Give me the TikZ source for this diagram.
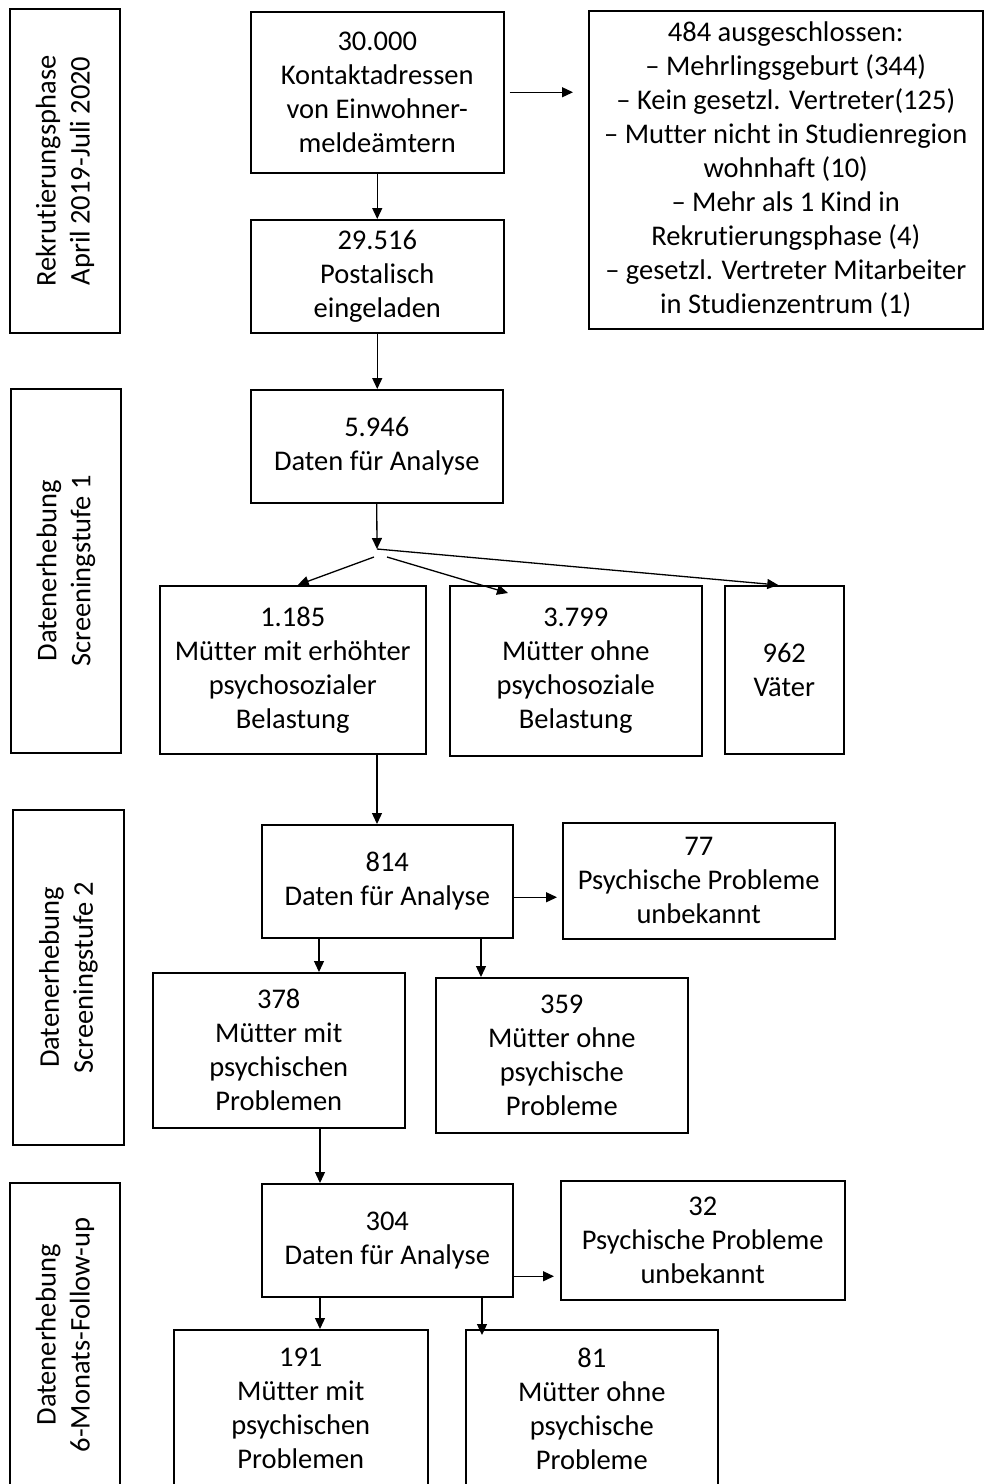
\documentclass[tikz,border=0pt]{standalone}
\usepackage{fontspec}
\setmainfont{Carlito}[Ligatures=CommonOff]
\usetikzlibrary{calc,
arrows.meta}

\begin{document}
\begin{tikzpicture} [x = 1pt, y = -1pt,
    >={Triangle[length=11pt, width=10pt]},
    every node/.style={font={\fontsize{28.5}{34}\selectfont}},
    main node/.style={rectangle, draw, line width = 1.5pt,
        anchor = north west, inner sep = 0pt, align=center},
    side node/.style={rectangle, draw, line width = 1.5pt,
        rotate = 90, inner sep = 0pt, align=center},
    arrow/.style={->, line width = 1.3pt}
  ]

  \useasboundingbox (0, 0) rectangle (984, 1484);

  % phases on the left
  \node [side node,
    minimum width = 324pt,
    minimum height = 110pt
  ] (rekrut) at (65, 171) {Rekrutierungsphase\\April 2019-Juli 2020};
  \node [side node,
    minimum width = 364pt,
    minimum height = 110pt
  ] (screen1) at (66, 571) {Datenerhebung\\Screeningstufe 1};
  \node [side node,
    minimum width = 335pt,
    minimum height = 111pt
  ] (screen2) at (68.5, 977.5) {Datenerhebung\\Screeningstufe 2};
  \node [side node,
    minimum width = 304pt,
    minimum height = 110pt
  ] (followup) at (65, 1335) {Datenerhebung\\6-Monats-Follow-up};

  % recruitment
  \node [main node,
    minimum width = 253pt,
    minimum height = 161pt
  ] (kontakt) at (250, 11) {30.000\\Kontaktadressen\\von Einwohner-\\meldeämtern};
  \node [main node,
    minimum width = 394pt,
    minimum height = 318pt
  ] (ausgeschl) at (588, 10) {484 ausgeschlossen:\\
    -- Mehrlingsgeburt (344)\\
    -- Kein gesetzl. Vertreter(125)\\
    -- Mutter nicht in Studienregion\\
    wohnhaft (10)\\
    -- Mehr als 1 Kind in\\
    Rekrutierungsphase (4)\\
    -- gesetzl. Vertreter Mitarbeiter\\
    in Studienzentrum (1)};
  \node [main node,
    minimum width = 253pt,
    minimum height = 113pt
  ] (eingel) at (250, 219) {29.516\\Postalisch\\eingeladen};

  % screening 1
  \node [main node,
    minimum width = 252pt,
    minimum height = 113pt
  ] (analyse1) at (250, 389) {5.946\\Daten für Analyse};
  \node [main node,
    minimum width = 266pt,
    minimum height = 168pt
  ] (belastet) at (159, 585) {1.185\\Mütter mit erhöhter\\psychosozialer\\Belastung};
  \node [main node,
    minimum width = 252pt,
    minimum height = 170pt
  ] (unbelastet) at (449, 585) {3.799\\Mütter ohne\\psychosoziale\\Belastung};
  \node [main node,
    minimum width = 119pt,
    minimum height = 168pt
  ] (vaeter) at (724, 585) {962\\Väter};

  % screening 2
  \node [main node,
    minimum width = 251pt,
    minimum height = 113pt
  ] (analyse2) at (261, 824) {814\\Daten für Analyse};
  \node [main node,
    minimum width = 272pt,
    minimum height = 116pt
  ] (unbek2) at (562, 822) {77\\Psychische Probleme\\unbekannt};
  \node [main node,
    minimum width = 252pt,
    minimum height = 155pt
  ] (psych2) at (152, 972) {378\\Mütter mit\\psychischen\\Problemen};
  \node [main node,
    minimum width = 252pt,
    minimum height = 155pt
  ] (gesund2) at (435, 977) {359\\Mütter ohne\\psychische\\Probleme};

  % follow-up
  \node [main node,
    minimum width = 251pt,
    minimum height = 113pt
  ] (analyse3) at (261, 1183) {304\\Daten für Analyse};
  \node [main node,
    minimum width = 284pt,
    minimum height = 119pt
  ] (unbek3) at (560, 1180) {32\\Psychische Probleme\\unbekannt};
  \node [main node,
    minimum width = 254pt,
    minimum height = 158pt
  ] (psych3) at (173, 1329) {191\\Mütter mit\\psychischen\\Problemen};
  \node [main node,
    minimum width = 252pt,
    minimum height = 158pt
  ] (gesund3) at (465, 1329) {81\\Mütter ohne\\psychische\\Probleme};

  \coordinate (split) at (377, 549);
  \coordinate (out2a) at ($(analyse2.south west) + (58, 0)$);
  \coordinate (out2b) at ($(analyse2.south west) + (220, 0)$);
  \coordinate (out2c) at ($(psych2.south west) + (168, 0)$);
  \coordinate (out3a) at ($(analyse3.south west) + (59, 0)$);
  \coordinate (out3b) at ($(analyse3.south west) + (221, 0)$);

  \draw [arrow] ($(kontakt.east) + (5, 0)$) -- ($(kontakt.east -| ausgeschl.west) + (-15, 0)$);
  \draw [arrow] (kontakt) -- (eingel);
  \draw [arrow] (eingel.south) -- (eingel.south |- analyse1.north);
  \draw [arrow] (analyse1.south) -- (split);
  \draw [arrow] ($(split) + (-3, 8)$) -- ($(belastet.north) + (5, 0)$);
  \draw [arrow] ($(split) + (10, 8)$) -- ($(unbelastet.north west) + (59, 8)$);
  \draw [arrow] (split) -- ($(vaeter.north) + (-6, 0)$);
  \draw [arrow] (split |- belastet.south) -- (split |- analyse2.north);

  \draw [arrow] ($(analyse2.east) + (0, 16)$) -- ($(analyse2.east -| unbek2.west) + (-5, 16)$);
  \draw [arrow] (out2a) -- (out2a |- psych2.north);
  \draw [arrow] (out2b) -- (out2b |- gesund2.north);
  \draw [arrow] (out2c) -- (out2c |- analyse3.north);

  \draw [arrow] ($(analyse3.east) + (0, 36)$) -- ($(analyse3.east -| unbek3.west) + (-6, 36)$);
  \draw [arrow] (out3a) -- (out3a |- psych3.north);
  \draw [arrow] (out3b) -- ($(out3b |- gesund3.north) + (0, 6)$);

\end{tikzpicture}
\end{document}
